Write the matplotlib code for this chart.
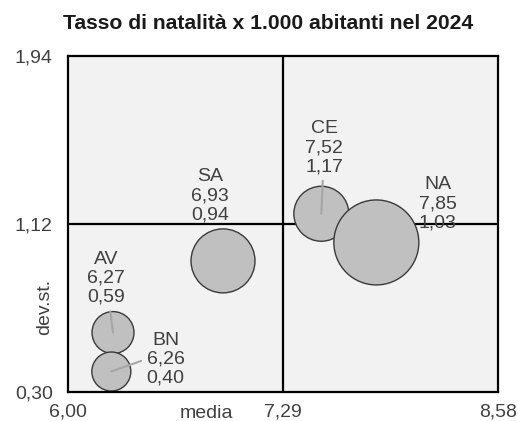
import matplotlib
matplotlib.use("Agg")
import matplotlib.pyplot as plt

matplotlib.rcParams.update({
    "font.family": ["Liberation Sans", "DejaVu Sans"],
    "font.size": 14,
})

# dati: province, media e deviazione standard del tasso di natalità
province = ["AV", "BN", "CE", "NA", "SA"]
media = [6.27, 6.26, 7.52, 7.85, 6.93]
dev_st = [0.59, 0.40, 1.17, 1.03, 0.94]
dimensione = [1764, 1521, 3025, 7225, 4096]  # peso delle bolle

x_ticks = [6.00, 7.29, 8.58]
y_ticks = [0.30, 1.12, 1.94]

# posizione delle etichette (offset in punti) e linee guida
label_offset = [(-5, 39), (39, 9), (2, 47.5), (44, 28), (-9.4, 47)]
leader = [True, True, True, False, False]
leader_relpos = [(0.5, 0.5), (0.0, 0.5), (0.5, 0.5), (0.5, 0.5), (0.5, 0.5)]

TEXT = "#404040"

fig = plt.figure(figsize=(5.18, 4.21), dpi=100)
ax = fig.add_axes([68 / 518, 1 - 392 / 421, 430 / 518, 336 / 421])
ax.set_facecolor("#f2f2f2")

ax.set_xlim(x_ticks[0], x_ticks[-1])
ax.set_ylim(y_ticks[0], y_ticks[-1])

# quadranti
ax.axvline(x_ticks[1], color="black", lw=1.6, zorder=1)
ax.axhline(y_ticks[1], color="black", lw=1.6, zorder=1)

ax.scatter(media, dev_st, s=[d * 0.5184 for d in dimensione],
           color="#c0c0c0", edgecolor="#3a3a3a", linewidth=1.0, zorder=2)

for i, p in enumerate(province):
    testo = f"{p}\n{media[i]:.2f}\n{dev_st[i]:.2f}".replace(".", ",")
    arrow = None
    if leader[i]:
        arrow = dict(arrowstyle="-", color="#a6a6a6", lw=1.5,
                     shrinkA=2, shrinkB=0, relpos=leader_relpos[i])
    ax.annotate(testo, (media[i], dev_st[i]), xytext=label_offset[i],
                textcoords="offset points", ha="center", va="center",
                color=TEXT, linespacing=1.15, arrowprops=arrow, zorder=4)

ax.set_xticks(x_ticks)
ax.set_xticklabels([f"{v:.2f}".replace(".", ",") for v in x_ticks])
ax.set_yticks(y_ticks)
ax.set_yticklabels([f"{v:.2f}".replace(".", ",") for v in y_ticks])
ax.tick_params(axis="x", length=0, pad=8, colors=TEXT)
ax.tick_params(axis="y", length=0, pad=11, colors=TEXT)

for s in ax.spines.values():
    s.set_linewidth(1.6)
    s.set_color("black")
    s.set_zorder(5)

ax.set_xlabel("media", color=TEXT)
ax.xaxis.set_label_coords(0.323, -0.038)
ax.set_ylabel("dev.st.", color=TEXT)
ax.yaxis.set_label_coords(-0.035, 0.253)

fig.text(268 / 518, 1 - 29 / 421, "Tasso di natalità x 1.000 abitanti nel 2024",
         ha="center", va="baseline", fontsize=15.2, fontweight="bold", color="#1a1a1a")

fig.savefig("out.png", dpi=100, facecolor="white")
